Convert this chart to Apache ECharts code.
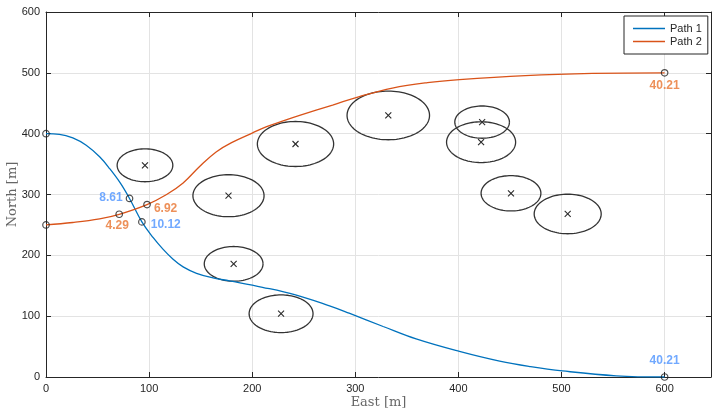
<!DOCTYPE html>
<html>
<head>
<meta charset="utf-8">
<script src="https://cdn.jsdelivr.net/npm/echarts@6/dist/echarts.min.js"></script>
<style>
html,body{margin:0;padding:0;background:#fff;}
#chart{width:713px;height:413px;}
</style>
</head>
<body>
<div id="chart"></div>
<script>
// ---- data ----
const xTicks = [0, 100, 200, 300, 400, 500, 600];
const yTicks = [0, 100, 200, 300, 400, 500, 600];

const path1X = [0, 13, 26, 39, 52, 62, 72, 81, 93, 104, 113, 123, 133, 146, 162, 178, 210, 242, 275, 294, 327, 359, 401, 440, 470, 501, 553, 600];
const path1Y = [400, 399, 393, 381, 362, 342, 319, 293.5, 255, 229, 211, 194, 181, 170.5, 163, 158, 147.5, 135, 117, 105, 83, 62.5, 42, 26, 17, 10, 2, 0];

const path2X = [0, 26, 52, 71, 98, 117, 133, 149, 165, 181, 200, 214, 230, 246, 278, 304, 336, 370, 401, 465, 530, 600];
const path2Y = [250, 254, 260, 267.5, 283.5, 300, 319, 346, 370, 386, 401, 411.5, 421, 430, 447, 461, 475, 484, 489, 495.5, 499, 500];

const mark1X = [0, 81, 93, 600];
const mark1Y = [400, 293.5, 255, 0];
const mark1Text = ['', '8.61', '10.12', '40.21'];

const mark2X = [0, 71, 98, 600];
const mark2Y = [250, 267.5, 283.5, 500];
const mark2Text = ['', '4.29', '6.92', '40.21'];

const obsX = [96, 177, 242, 182, 228, 332, 423, 422, 451, 506];
const obsY = [348, 298, 383, 186, 104, 430, 419, 386, 302, 268];
const obsR = [27, 34.5, 37, 28.5, 31, 40, 26.5, 33.5, 29, 32.5];

// ---- build ----
const zip = (a, b) => a.map((v, i) => [v, b[i]]);
const C1 = '#0072BD', C2 = '#D95319';
const L1 = '#4D94FF', L2 = '#E8742F';
const AX = '#262626';

const labelPos1 = [
  null,
  {position: 'left', distance: 3, offset: [0, -1]},
  {position: 'right', distance: 5, offset: [0, 3]},
  {position: 'top', distance: 6, offset: [0, 0]}
];
const labelPos2 = [
  null,
  {position: 'bottom', distance: 2, offset: [-2, 0]},
  {position: 'right', distance: 3, offset: [0, 4]},
  {position: 'bottom', distance: 3, offset: [0, 0]}
];
function markData(xs, ys, texts, pos, color) {
  return xs.map((x, i) => {
    const d = {value: [x, ys[i]]};
    if (texts[i]) {
      d.label = Object.assign({show: true, formatter: texts[i], color: color,
        fontWeight: 'bold', fontSize: 12, fontFamily: 'Liberation Sans, Arial, sans-serif'}, pos[i]);
    }
    return d;
  });
}

const obsData = obsX.map((x, i) => [x, obsY[i], obsR[i]]);

function renderObs(params, api) {
  const cx = api.value(0), cy = api.value(1), r = api.value(2);
  const c = api.coord([cx, cy]);
  const s = api.size([r, r]);
  const rx = s[0], ry = s[1];
  const pts = [];
  for (let k = 0; k <= 96; k++) {
    const a = k / 96 * Math.PI * 2;
    pts.push([c[0] + rx * Math.cos(a), c[1] + ry * Math.sin(a)]);
  }
  const h = 3;
  const st = {stroke: '#2b2b2b', lineWidth: 1.1, fill: null};
  return {
    type: 'group',
    children: [
      {type: 'polyline', shape: {points: pts}, style: {stroke: '#333', lineWidth: 1.3, fill: null}},
      {type: 'line', shape: {x1: c[0] - h, y1: c[1] - h, x2: c[0] + h, y2: c[1] + h}, style: st},
      {type: 'line', shape: {x1: c[0] - h, y1: c[1] + h, x2: c[0] + h, y2: c[1] - h}, style: st}
    ]
  };
}

const tickFont = {color: AX, fontSize: 11, fontFamily: 'Liberation Sans, Arial, sans-serif'};
const gridLine = {show: true, lineStyle: {color: '#e3e3e3', width: 1}};

const chart = echarts.init(document.getElementById('chart'), null, {renderer: 'canvas'});
chart.setOption({
  animation: false,
  backgroundColor: '#fff',
  grid: {left: 46, right: 2, top: 12, bottom: 36, containLabel: false, outerBoundsMode: 'none'},
  legend: {
    data: [{name: 'Path 1', icon: 'rect'}, {name: 'Path 2', icon: 'rect'}],
    orient: 'vertical',
    left: 624, top: 16,
    padding: [7, 6, 7, 9],
    itemGap: 2,
    itemWidth: 32, itemHeight: 1.5,
    backgroundColor: '#fff',
    borderColor: AX, borderWidth: 1, borderRadius: 0,
    textStyle: {color: AX, fontSize: 11, fontFamily: 'Liberation Sans, Arial, sans-serif'}
  },
  xAxis: [
    {
      type: 'value', min: xTicks[0], max: 645, interval: 100,
      name: 'East [m]', nameLocation: 'middle', nameGap: 19, nameMoveOverlap: false,
      nameTextStyle: {color: '#666', fontSize: 13, fontFamily: 'DejaVu Serif, Liberation Serif, serif'},
      axisLine: {show: true, onZero: false, lineStyle: {color: AX, width: 1}},
      axisTick: {show: true, inside: true, length: 5, lineStyle: {color: AX}},
      axisLabel: Object.assign({margin: 6, showMaxLabel: false,
        formatter: v => xTicks.indexOf(v) >= 0 ? String(v) : ''}, tickFont),
      splitLine: gridLine
    },
    {
      type: 'value', position: 'top', min: xTicks[0], max: 645, interval: 100,
      axisLine: {show: true, onZero: false, lineStyle: {color: AX, width: 1}},
      axisTick: {show: true, inside: true, length: 5, lineStyle: {color: AX}},
      axisLabel: {show: false}, splitLine: {show: false}
    }
  ],
  yAxis: [
    {
      type: 'value', min: yTicks[0], max: yTicks[yTicks.length - 1], interval: 100,
      name: 'North [m]', nameLocation: 'middle', nameGap: 27, nameMoveOverlap: false,
      nameTextStyle: {color: '#666', fontSize: 13, fontFamily: 'DejaVu Serif, Liberation Serif, serif'},
      axisLine: {show: true, onZero: false, lineStyle: {color: AX, width: 1}},
      axisTick: {show: true, inside: true, length: 5, lineStyle: {color: AX}},
      axisLabel: Object.assign({margin: 6}, tickFont),
      splitLine: gridLine
    },
    {
      type: 'value', position: 'right', min: yTicks[0], max: yTicks[yTicks.length - 1], interval: 100,
      axisLine: {show: true, onZero: false, lineStyle: {color: AX, width: 1}},
      axisTick: {show: true, inside: true, length: 5, lineStyle: {color: AX}},
      axisLabel: {show: false}, splitLine: {show: false}
    }
  ],
  series: [
    {
      name: 'Obstacles', type: 'custom', renderItem: renderObs,
      data: obsData, encode: {x: 0, y: 1}, z: 2, silent: true
    },
    {
      name: 'Path 1', type: 'line', data: zip(path1X, path1Y), smooth: 0.4,
      symbol: 'none', lineStyle: {color: C1, width: 1.3}, itemStyle: {color: C1}, z: 3
    },
    {
      name: 'Path 2', type: 'line', data: zip(path2X, path2Y), smooth: 0.4,
      symbol: 'none', lineStyle: {color: C2, width: 1.3}, itemStyle: {color: C2}, z: 3
    },
    {
      name: 'm1', type: 'scatter', data: markData(mark1X, mark1Y, mark1Text, labelPos1, L1),
      symbol: 'circle', symbolSize: 6.5, clip: false, z: 5,
      itemStyle: {color: 'transparent', borderColor: '#222', borderWidth: 1.2}
    },
    {
      name: 'm2', type: 'scatter', data: markData(mark2X, mark2Y, mark2Text, labelPos2, L2),
      symbol: 'circle', symbolSize: 6.5, clip: false, z: 5,
      itemStyle: {color: 'transparent', borderColor: '#222', borderWidth: 1.2}
    }
  ]
});
</script>
</body>
</html>
